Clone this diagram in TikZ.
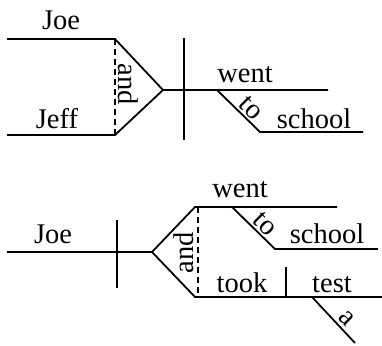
\documentclass[tikz,border=0pt]{standalone}
\usepackage{fontspec}
\setmainfont{Liberation Serif}
\begin{document}
\begin{tikzpicture}[x=1pt,y=-1pt,
  rule/.style={line width=1.8pt},
  joiner/.style={line width=1.5pt, dash pattern=on 6pt off 4pt},
  word/.style={inner sep=0pt, anchor=base, font=\fontsize{28.5}{31}\selectfont},
  slant/.style={inner sep=0pt, font=\fontsize{28.5}{31}\selectfont}]
\useasboundingbox (0,0) rectangle (382,345);

% ---------- Joe and Jeff went to school ----------
\coordinate (s1a) at (7,39);    \coordinate (s1b) at (115,39);
\coordinate (s2a) at (7,135);   \coordinate (s2b) at (115,135);
\coordinate (m1) at (163,90);   \coordinate (v1end) at (328,90);
\coordinate (d1t) at (184,38);  \coordinate (d1b) at (184,140);
\coordinate (p1a) at (217,90);  \coordinate (p1b) at (260,132);
\coordinate (o1end) at (363,132);

\draw[rule] (s1a) -- (s1b) -- (m1) -- (v1end);
\draw[rule] (s2a) -- (s2b) -- (m1);
\draw[joiner] (s1b) -- (s2b);
\draw[rule] (d1t) -- (d1b);
\draw[rule] (p1a) -- (p1b) -- (o1end);

\node[word] (joe1) at (61,30) {Joe};
\node[word] (jeff) at (57,128) {Jeff};
\node[slant, rotate=-90] (and1) at (128,84) {and};
\node[word] (went1) at (245,82) {went};
\node[slant, rotate=-45] (to1) at (251,108) {to};
\node[word] (school1) at (314,128) {school};

% ---------- Joe went to school and took a test ----------
\coordinate (s3a) at (7,252);   \coordinate (m2) at (152,252);
\coordinate (d2t) at (117,220); \coordinate (d2b) at (117,288);
\coordinate (u2a) at (195,207); \coordinate (u2end) at (337,207);
\coordinate (l2a) at (195,297); \coordinate (l2end) at (382,297);
\coordinate (q2a) at (198,207); \coordinate (q2b) at (198,297);
\coordinate (p2a) at (232,207); \coordinate (p2b) at (275,249);
\coordinate (o2end) at (378,249);
\coordinate (e2t) at (286,267); \coordinate (e2b) at (286,297);
\coordinate (a2a) at (312,297); \coordinate (a2b) at (355,343);

\draw[rule] (s3a) -- (m2);
\draw[rule] (d2t) -- (d2b);
\draw[rule] (m2) -- (u2a) -- (u2end);
\draw[rule] (m2) -- (l2a) -- (l2end);
\draw[joiner] (q2a) -- (q2b);
\draw[rule] (p2a) -- (p2b) -- (o2end);
\draw[rule] (e2t) -- (e2b);
\draw[rule] (a2a) -- (a2b);

\node[word] (joe2) at (53,243) {Joe};
\node[slant, rotate=90] (and2) at (184,253) {and};
\node[word] (went2) at (240,197) {went};
\node[slant, rotate=-45] (to2) at (265,224) {to};
\node[word] (school2) at (327,243) {school};
\node[word] (took) at (242,292) {took};
\node[word] (test) at (332,292) {test};
\node[slant, rotate=-45] (art) at (347,318) {a};
\end{tikzpicture}
\end{document}
